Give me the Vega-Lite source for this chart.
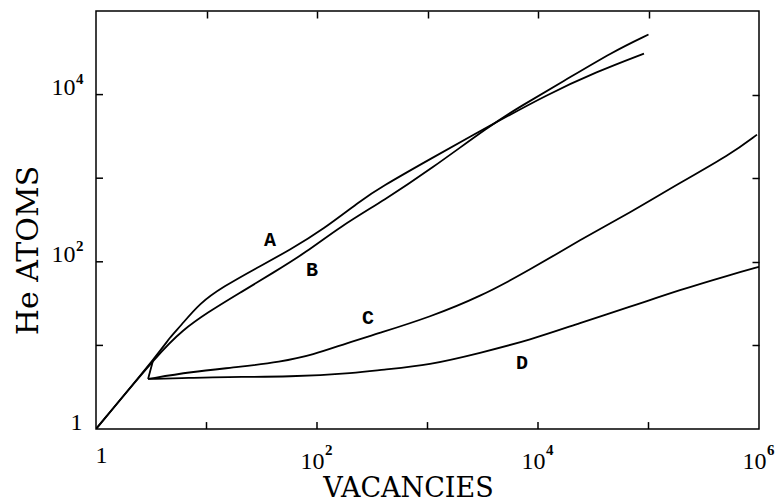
{
  "$schema": "https://vega.github.io/schema/vega-lite/v6.json",
  "width": 663,
  "height": 418,
  "autosize": "none",
  "padding": {"left": 96, "top": 11, "right": 25, "bottom": 75},
  "background": "white",
  "config": {
    "view": {"stroke": "black", "strokeWidth": 1.5},
    "axis": {
      "zindex": 1,
      "grid": false,
      "domain": false,
      "ticks": true,
      "offset": -7,
      "tickSize": 7,
      "tickColor": "black",
      "tickWidth": 1.5,
      "labelColor": "black",
      "labelFont": "Liberation Serif",
      "labelFontSize": 24,
      "labelOverlap": false,
      "labelFlush": false,
      "labelBound": false,
      "titleColor": "black",
      "titleFont": "DejaVu Serif",
      "titleFontWeight": "normal"
    }
  },
  "datasets": {
    "curves": [
      {"curve": "A", "seq": 1, "vacancies": 1, "he_atoms": 1},
      {"curve": "A", "seq": 2, "vacancies": 3.79, "he_atoms": 8.36},
      {"curve": "A", "seq": 3, "vacancies": 4.68, "he_atoms": 12.6},
      {"curve": "A", "seq": 4, "vacancies": 5.75, "he_atoms": 16.7},
      {"curve": "A", "seq": 5, "vacancies": 8.73, "he_atoms": 32.3},
      {"curve": "A", "seq": 6, "vacancies": 14.1, "he_atoms": 50.2},
      {"curve": "A", "seq": 7, "vacancies": 28.6, "he_atoms": 84.7},
      {"curve": "A", "seq": 8, "vacancies": 57, "he_atoms": 139},
      {"curve": "A", "seq": 9, "vacancies": 113, "he_atoms": 242},
      {"curve": "A", "seq": 10, "vacancies": 255, "he_atoms": 553},
      {"curve": "A", "seq": 11, "vacancies": 372, "he_atoms": 769},
      {"curve": "A", "seq": 12, "vacancies": 1033, "he_atoms": 1667},
      {"curve": "A", "seq": 13, "vacancies": 3681, "he_atoms": 4256},
      {"curve": "A", "seq": 14, "vacancies": 12050, "he_atoms": 10000},
      {"curve": "A", "seq": 15, "vacancies": 34200, "he_atoms": 18840},
      {"curve": "A", "seq": 16, "vacancies": 91000, "he_atoms": 30970},
      {"curve": "B", "seq": 1, "vacancies": 1, "he_atoms": 1},
      {"curve": "B", "seq": 2, "vacancies": 3.79, "he_atoms": 8.36},
      {"curve": "B", "seq": 3, "vacancies": 6.12, "he_atoms": 15.3},
      {"curve": "B", "seq": 4, "vacancies": 10.1, "he_atoms": 24.5},
      {"curve": "B", "seq": 5, "vacancies": 20.1, "he_atoms": 42.6},
      {"curve": "B", "seq": 6, "vacancies": 40, "he_atoms": 73.8},
      {"curve": "B", "seq": 7, "vacancies": 81.3, "he_atoms": 132},
      {"curve": "B", "seq": 8, "vacancies": 161, "he_atoms": 262},
      {"curve": "B", "seq": 9, "vacancies": 412, "he_atoms": 553},
      {"curve": "B", "seq": 10, "vacancies": 1054, "he_atoms": 1265},
      {"curve": "B", "seq": 11, "vacancies": 3681, "he_atoms": 4256},
      {"curve": "B", "seq": 12, "vacancies": 6871, "he_atoms": 7178},
      {"curve": "B", "seq": 13, "vacancies": 16830, "he_atoms": 14320},
      {"curve": "B", "seq": 14, "vacancies": 47750, "he_atoms": 32730},
      {"curve": "B", "seq": 15, "vacancies": 100000, "he_atoms": 52360},
      {"curve": "C", "seq": 1, "vacancies": 2.96, "he_atoms": 3.97},
      {"curve": "C", "seq": 2, "vacancies": 7.1, "he_atoms": 4.82},
      {"curve": "C", "seq": 3, "vacancies": 20.1, "he_atoms": 5.53},
      {"curve": "C", "seq": 4, "vacancies": 46.2, "he_atoms": 6.34},
      {"curve": "C", "seq": 5, "vacancies": 92, "he_atoms": 7.69},
      {"curve": "C", "seq": 6, "vacancies": 187, "he_atoms": 10.7},
      {"curve": "C", "seq": 7, "vacancies": 372, "he_atoms": 14.1},
      {"curve": "C", "seq": 8, "vacancies": 1054, "he_atoms": 21.9},
      {"curve": "C", "seq": 9, "vacancies": 2985, "he_atoms": 38.1},
      {"curve": "C", "seq": 10, "vacancies": 8472, "he_atoms": 80.2},
      {"curve": "C", "seq": 11, "vacancies": 23990, "he_atoms": 183},
      {"curve": "C", "seq": 12, "vacancies": 68080, "he_atoms": 386},
      {"curve": "C", "seq": 13, "vacancies": 192800, "he_atoms": 883},
      {"curve": "C", "seq": 14, "vacancies": 547000, "he_atoms": 1910},
      {"curve": "C", "seq": 15, "vacancies": 959000, "he_atoms": 3320},
      {"curve": "D", "seq": 1, "vacancies": 2.96, "he_atoms": 3.97},
      {"curve": "D", "seq": 2, "vacancies": 7.1, "he_atoms": 4.08},
      {"curve": "D", "seq": 3, "vacancies": 14.1, "he_atoms": 4.2},
      {"curve": "D", "seq": 4, "vacancies": 57, "he_atoms": 4.2},
      {"curve": "D", "seq": 5, "vacancies": 230, "he_atoms": 4.69},
      {"curve": "D", "seq": 6, "vacancies": 372, "he_atoms": 5.09},
      {"curve": "D", "seq": 7, "vacancies": 1054, "he_atoms": 5.83},
      {"curve": "D", "seq": 8, "vacancies": 2985, "he_atoms": 8.13},
      {"curve": "D", "seq": 9, "vacancies": 8472, "he_atoms": 11.6},
      {"curve": "D", "seq": 10, "vacancies": 23990, "he_atoms": 18.6},
      {"curve": "D", "seq": 11, "vacancies": 68080, "he_atoms": 28.9},
      {"curve": "D", "seq": 12, "vacancies": 192800, "he_atoms": 46.2},
      {"curve": "D", "seq": 13, "vacancies": 547000, "he_atoms": 69.8},
      {"curve": "D", "seq": 14, "vacancies": 1000000, "he_atoms": 87.1},
      {"curve": "CD start", "seq": 1, "vacancies": 3.28, "he_atoms": 6.6},
      {"curve": "CD start", "seq": 2, "vacancies": 2.96, "he_atoms": 3.97}
    ],
    "labels": [
      {"curve": "A", "vacancies": 37.6, "he_atoms": 183},
      {"curve": "B", "vacancies": 90.1, "he_atoms": 80.2},
      {"curve": "C", "vacancies": 289.5, "he_atoms": 21.4},
      {"curve": "D", "vacancies": 7161, "he_atoms": 6.17}
    ],
    "x_powers": [
      {"value": 100, "exponent": "2"},
      {"value": 10000, "exponent": "4"},
      {"value": 1000000, "exponent": "6"}
    ],
    "y_powers": [
      {"value": 100, "exponent": "2"},
      {"value": 10000, "exponent": "4"}
    ],
    "x_decades": [
      {"value": 10}, {"value": 100}, {"value": 1000}, {"value": 10000}, {"value": 100000}
    ],
    "y_decades": [
      {"value": 10}, {"value": 100}, {"value": 1000}, {"value": 10000}
    ]
  },
  "layer": [
    {
      "data": {"name": "curves"},
      "mark": {"type": "line", "color": "black", "strokeWidth": 1.8, "interpolate": "basis", "clip": true},
      "encoding": {
        "x": {
          "field": "vacancies",
          "type": "quantitative",
          "scale": {"type": "log", "domain": [1, 1000000], "nice": false},
          "axis": null
        },
        "y": {
          "field": "he_atoms",
          "type": "quantitative",
          "scale": {"type": "log", "domain": [1, 100000], "nice": false},
          "axis": null
        },
        "detail": {"field": "curve"},
        "order": {"field": "seq"}
      }
    },
    {
      "data": {"name": "x_decades"},
      "mark": {"type": "rule", "color": "black", "strokeWidth": 1.5},
      "encoding": {
        "x": {"field": "value", "type": "quantitative", "axis": null},
        "y": {"datum": 1, "type": "quantitative", "axis": null},
        "y2": {"datum": 1.21}
      }
    },
    {
      "data": {"name": "y_decades"},
      "mark": {"type": "rule", "color": "black", "strokeWidth": 1.5},
      "encoding": {
        "y": {"field": "value", "type": "quantitative", "axis": null},
        "x": {"datum": 1, "type": "quantitative", "axis": null},
        "x2": {"datum": 1.157}
      }
    },
    {
      "data": {"name": "labels"},
      "mark": {"type": "text", "font": "Liberation Mono", "fontWeight": "bold", "fontSize": 20, "color": "black", "align": "center", "baseline": "middle"},
      "encoding": {
        "x": {"field": "vacancies", "type": "quantitative", "axis": null},
        "y": {"field": "he_atoms", "type": "quantitative", "axis": null},
        "text": {"field": "curve"}
      }
    },
    {
      "data": {"name": "x_powers"},
      "mark": {"type": "text", "font": "Liberation Serif", "fontWeight": "bold", "fontSize": 15, "color": "black", "align": "left", "baseline": "alphabetic", "dx": 8, "dy": 26, "clip": false},
      "encoding": {
        "x": {"field": "value", "type": "quantitative", "axis": null},
        "y": {"datum": 1, "type": "quantitative", "axis": null},
        "text": {"field": "exponent"}
      }
    },
    {
      "data": {"name": "y_powers"},
      "mark": {"type": "text", "font": "Liberation Serif", "fontWeight": "bold", "fontSize": 15, "color": "black", "align": "left", "baseline": "alphabetic", "dx": -20, "dy": -11, "clip": false},
      "encoding": {
        "x": {"datum": 1, "type": "quantitative", "axis": null},
        "y": {"field": "value", "type": "quantitative", "axis": null},
        "text": {"field": "exponent"}
      }
    },
    {
      "data": {"name": "labels"},
      "mark": {"type": "point", "opacity": 0},
      "encoding": {
        "x": {
          "field": "vacancies",
          "type": "quantitative",
          "axis": {
            "orient": "bottom",
            "ticks": false,
            "values": [1, 100, 10000, 1000000],
            "labelExpr": "datum.value == 1 ? '1' : '10'",
            "labelBaseline": "alphabetic",
            "labelPadding": {"condition": {"test": "datum.value == 1", "value": 40}, "value": 46},
            "labelOffset": {"condition": {"test": "datum.value == 1", "value": 5}, "value": -5},
            "title": "VACANCIES",
            "titleFontSize": 27,
            "titleX": 312,
            "titleY": 74,
            "titleAlign": "center",
            "titleBaseline": "alphabetic"
          }
        },
        "y": {
          "field": "he_atoms",
          "type": "quantitative",
          "axis": {
            "orient": "left",
            "ticks": false,
            "values": [1, 100, 10000],
            "labelExpr": "datum.value == 1 ? '1' : '10'",
            "labelBaseline": "alphabetic",
            "labelAlign": "right",
            "labelPadding": {"condition": {"test": "datum.value == 1", "value": 21}, "value": 28},
            "title": "He ATOMS",
            "titleFontSize": 30,
            "titleX": -66,
            "titleY": 239,
            "titleAngle": -90,
            "titleAlign": "center",
            "titleBaseline": "alphabetic"
          }
        }
      }
    },
    {
      "data": {"name": "labels"},
      "mark": {"type": "point", "opacity": 0},
      "encoding": {
        "x": {
          "field": "vacancies",
          "type": "quantitative",
          "axis": {"orient": "top", "values": [10, 100, 1000, 10000, 100000], "labels": false, "title": null}
        },
        "y": {
          "field": "he_atoms",
          "type": "quantitative",
          "axis": {"orient": "right", "values": [10, 100, 1000, 10000], "labels": false, "title": null}
        }
      }
    }
  ],
  "resolve": {"axis": {"x": "independent", "y": "independent"}}
}
